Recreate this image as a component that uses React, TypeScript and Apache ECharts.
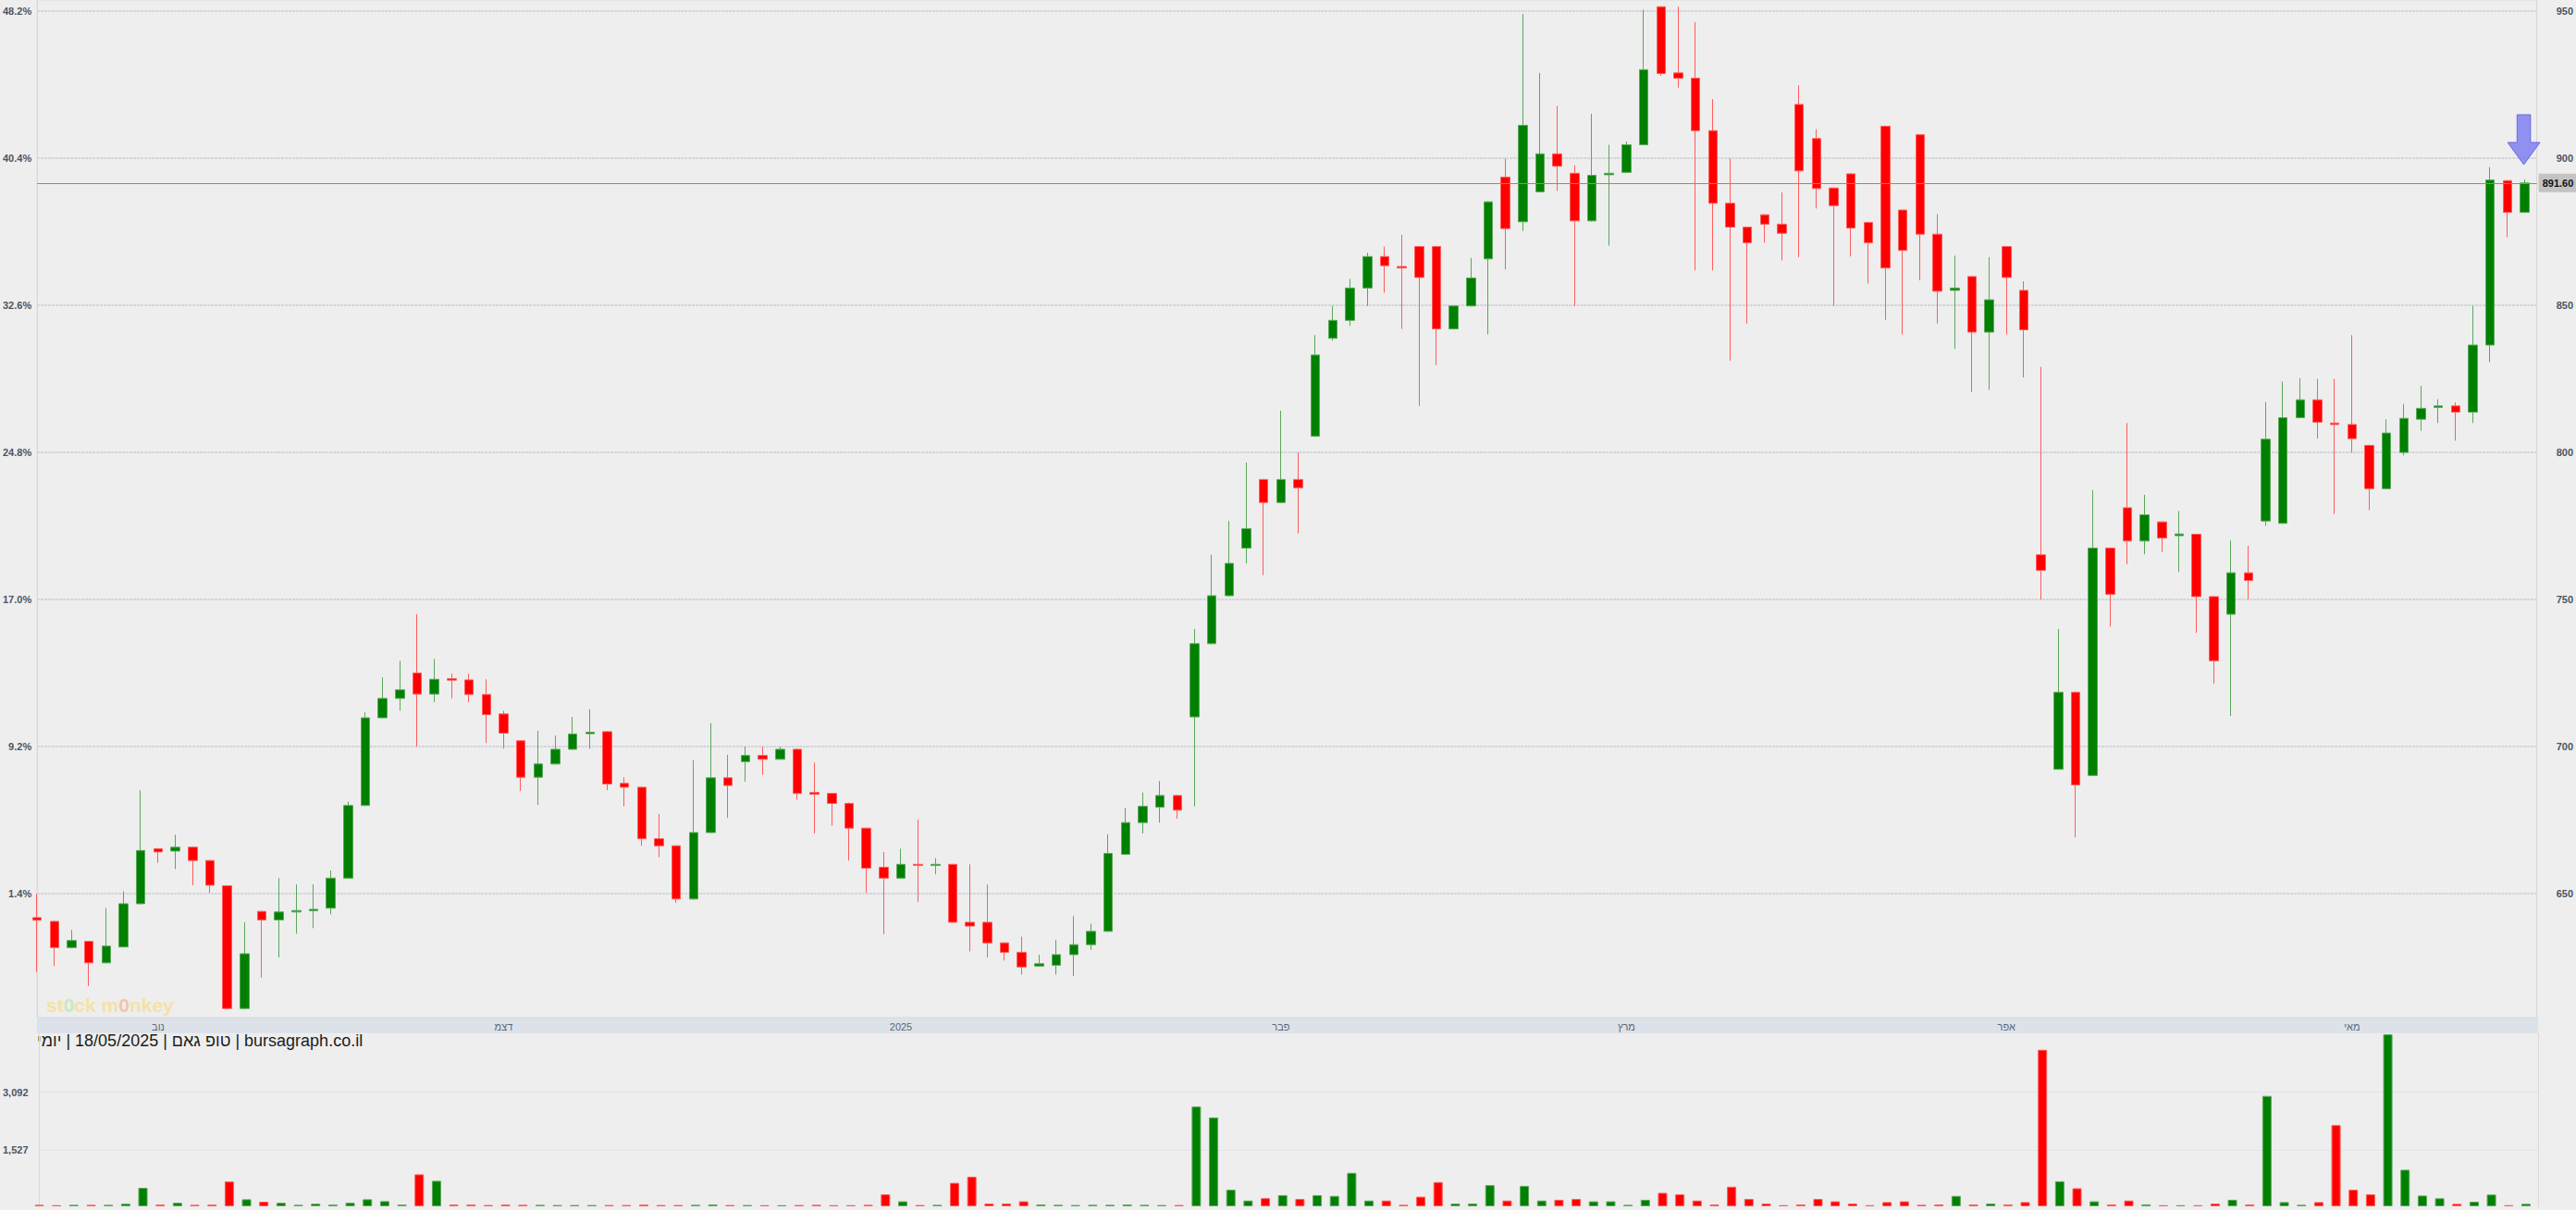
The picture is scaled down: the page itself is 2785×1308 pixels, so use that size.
import React, { useEffect, useRef } from 'react';
import * as echarts from 'echarts';

// ---- data ----
const opens = [
  641.9, 640.6, 631.7, 633.8, 626.5, 631.9, 646.6, 665.3, 664.5, 665.8,
  661.3, 652.7, 611.0, 644.0, 641.1, 643.8, 644.2, 645.1, 655.3, 680.0,
  709.8, 716.4, 725.0, 717.9, 723.1, 722.7, 717.7, 711.1, 702.0, 689.6,
  694.1, 699.1, 704.4, 705.1, 687.5, 686.2, 668.7, 666.3, 648.2, 670.8,
  689.4, 694.9, 697.0, 695.7, 699.1, 684.4, 684.1, 680.7, 672.3, 659.0,
  655.3, 660.0, 659.6, 660.0, 640.3, 640.3, 633.3, 630.1, 625.4, 625.7,
  629.3, 632.7, 637.2, 663.4, 674.2, 679.4, 683.4, 710.1, 735.0, 751.3,
  767.5, 790.8, 783.0, 790.8, 805.5, 838.8, 844.9, 855.9, 866.6, 863.2,
  870.0, 870.0, 842.0, 849.8, 865.8, 893.6, 878.4, 888.6, 901.5, 894.9,
  878.7, 894.4, 895.2, 904.6, 951.5, 929.0, 927.2, 909.4, 884.7, 876.6,
  880.8, 877.6, 918.3, 906.7, 889.9, 894.7, 878.2, 910.9, 882.4, 908.0,
  874.2, 855.1, 859.8, 840.9, 870.0, 855.1, 765.2, 692.3, 718.5, 690.2,
  767.5, 781.2, 769.9, 776.4, 771.7, 772.2, 751.0, 745.0, 759.1, 776.7,
  775.9, 811.8, 817.9, 810.0, 809.5, 802.4, 787.7, 800.0, 811.3, 815.3,
  815.8, 813.7, 836.5, 892.4, 881.6,
];
const closes = [
  641.0, 631.7, 634.1, 626.5, 632.2, 646.6, 664.7, 664.2, 665.8, 661.3,
  652.9, 611.0, 629.6, 641.1, 643.8, 644.3, 644.7, 655.3, 680.0, 709.8,
  716.4, 719.3, 717.9, 722.9, 722.6, 717.7, 710.9, 704.6, 689.6, 694.1,
  699.1, 704.3, 704.9, 687.3, 686.2, 668.7, 666.3, 648.2, 670.8, 689.4,
  686.8, 697.0, 695.7, 699.1, 684.1, 683.8, 680.7, 672.3, 658.7, 655.3,
  660.0, 659.6, 660.0, 640.3, 639.0, 633.3, 630.1, 625.1, 626.2, 629.3,
  632.7, 637.2, 663.7, 674.2, 679.7, 683.4, 678.4, 735.0, 751.3, 762.3,
  774.1, 783.0, 790.8, 788.0, 833.1, 844.9, 855.9, 866.6, 863.5, 862.7,
  859.5, 842.0, 849.8, 859.3, 885.2, 876.1, 911.2, 901.5, 897.3, 878.7,
  894.2, 894.9, 904.6, 930.1, 928.8, 927.2, 909.4, 884.7, 876.6, 871.3,
  877.6, 874.5, 895.7, 889.7, 883.9, 876.3, 871.3, 862.7, 868.7, 874.2,
  854.8, 855.9, 840.9, 851.9, 859.5, 841.7, 759.9, 718.5, 687.0, 767.5,
  751.8, 769.9, 778.8, 770.9, 772.3, 751.0, 729.2, 759.1, 756.5, 804.5,
  811.8, 817.9, 810.3, 809.5, 804.7, 787.7, 806.6, 811.6, 815.0, 815.8,
  813.7, 836.5, 892.6, 881.6, 891.6,
];
const lows = [
  623.3, 625.4, 631.4, 618.6, 626.3, 631.7, 646.4, 660.5, 658.4, 652.9,
  650.3, 610.8, 610.8, 621.5, 628.3, 636.4, 638.3, 643.0, 655.1, 679.8,
  709.6, 712.2, 700.0, 715.1, 716.4, 715.1, 701.2, 699.3, 684.9, 680.2,
  693.9, 698.9, 699.3, 685.2, 679.7, 666.3, 662.4, 646.9, 648.0, 670.6,
  675.8, 688.1, 690.4, 695.5, 682.0, 670.5, 673.1, 661.3, 650.3, 636.2,
  655.1, 647.2, 656.6, 640.1, 630.4, 628.3, 627.3, 622.5, 625.2, 622.5,
  622.0, 630.9, 637.0, 663.2, 670.5, 674.2, 675.5, 679.7, 734.8, 751.1,
  762.3, 758.3, 782.8, 772.5, 805.3, 838.0, 843.0, 849.8, 854.3, 842.0,
  815.8, 829.7, 841.8, 849.6, 840.1, 862.2, 875.3, 888.4, 888.9, 849.8,
  878.5, 870.3, 895.0, 904.4, 928.0, 924.0, 861.9, 861.9, 831.2, 843.8,
  871.3, 865.3, 866.4, 882.9, 849.8, 866.6, 857.4, 845.1, 840.1, 858.5,
  843.8, 835.2, 820.5, 821.3, 840.1, 825.5, 750.0, 692.1, 669.2, 690.0,
  740.8, 762.0, 765.4, 766.2, 759.4, 738.7, 721.4, 710.4, 750.0, 775.1,
  775.7, 811.6, 804.7, 779.1, 800.0, 780.4, 787.5, 799.0, 807.4, 810.0,
  804.0, 810.0, 830.7, 873.2, 881.4,
];
const highs = [
  650.0, 640.8, 637.7, 634.0, 645.1, 650.8, 685.2, 665.6, 670.0, 666.0,
  661.5, 652.9, 640.3, 644.2, 655.3, 653.2, 653.2, 657.9, 681.3, 711.7,
  723.5, 729.2, 745.0, 729.8, 724.8, 724.8, 722.9, 712.2, 702.2, 705.4,
  703.8, 710.1, 712.7, 705.3, 689.6, 686.4, 677.1, 666.5, 695.4, 708.0,
  697.2, 700.0, 700.0, 700.0, 699.3, 694.6, 684.3, 681.0, 672.5, 664.2,
  665.3, 675.2, 662.1, 660.2, 660.0, 653.2, 633.5, 635.4, 629.3, 634.3,
  642.4, 639.8, 670.2, 679.2, 684.4, 688.3, 683.6, 740.0, 765.2, 776.7,
  796.6, 791.0, 814.2, 800.0, 839.9, 849.8, 859.0, 867.9, 870.0, 874.0,
  870.2, 870.2, 850.0, 866.1, 885.4, 899.9, 949.0, 929.0, 917.8, 897.6,
  915.1, 904.6, 905.7, 950.5, 951.7, 951.5, 946.3, 920.1, 899.9, 876.8,
  881.0, 888.4, 924.8, 909.9, 890.1, 894.9, 878.4, 911.1, 882.6, 908.2,
  881.0, 866.9, 860.0, 866.4, 870.2, 858.2, 829.1, 740.0, 718.7, 787.2,
  767.7, 810.0, 785.6, 776.6, 780.1, 772.4, 751.2, 770.1, 768.3, 817.1,
  824.1, 825.2, 825.0, 825.0, 839.9, 802.6, 811.3, 816.5, 822.6, 818.1,
  817.0, 849.8, 897.0, 892.6, 892.8,
];
const volumes = [
  40, 30, 40, 40, 40, 70, 500, 45, 95, 40,
  45, 670, 190, 125, 95, 40, 70, 45, 95, 190,
  140, 45, 865, 690, 45, 45, 35, 45, 40, 40,
  35, 35, 35, 35, 35, 45, 35, 35, 40, 50,
  35, 35, 30, 30, 35, 40, 30, 30, 40, 323,
  135, 35, 40, 635, 800, 73, 73, 135, 50, 40,
  35, 40, 40, 50, 40, 35, 35, 2700, 2405, 448,
  156, 220, 302, 198, 302, 281, 906, 156, 156, 40,
  260, 656, 73, 73, 573, 156, 552, 156, 177, 198,
  135, 135, 40, 177, 364, 323, 156, 50, 531, 198,
  73, 30, 50, 198, 135, 73, 30, 114, 135, 40,
  50, 281, 50, 73, 50, 114, 4237, 677, 489, 135,
  50, 156, 52, 30, 30, 30, 73, 177, 50, 2988,
  114, 40, 114, 2197, 448, 323, 4653, 990, 290, 217,
  67, 125, 317, 30, 67,
];
const monthTickIdx = [7, 27, 50, 72, 92, 114, 134];
const monthNames = ['נוב', 'דצמ', '2025', 'פבר', 'מרץ', 'אפר', 'מאי'];
const priceTicks = [650, 700, 750, 800, 850, 900, 950];
const volumeTicks = [1527, 3092];
const titleParts = ['יומי', '18/05/2025', 'טופ גאם', 'bursagraph.co.il'];

// ---- styling / layout ----
const UP = '#008000';
const DOWN = '#ff0000';
const UP_EDGE = '#5aa85a';
const DOWN_EDGE = '#ff5c5c';
const FONT = '"Liberation Sans", Arial, sans-serif';
const LABEL_COLOR = '#4b5565';
const PRICE_MIN = 607.9;
const PRICE_MAX = 953.8;
const VOL_MAX = 4682;
const X_MAX = 144.7;
const LRM = '\u200E';

const BASE = closes[0];
const lastIdx = closes.length - 1;
const lastClose = closes[lastIdx];

function buildOption(): any {
  const candleData = opens.map((o, i) => [i, o, closes[i], lows[i], highs[i]]);
  const volData = volumes.map((v, i) => {
    const up = closes[i] >= opens[i];
    return {
      value: [i, v],
      itemStyle: { color: up ? UP : DOWN, borderColor: up ? UP_EDGE : DOWN_EDGE, borderWidth: 1 },
    };
  });
  const axisLine = { show: true, lineStyle: { color: '#d9d9d9', width: 1 } };
  return {
    animation: false,
    backgroundColor: '#eeeeee',
    textStyle: { fontFamily: FONT },
    grid: [
      { left: 40, right: 41, top: 0, height: 1100, show: true, borderColor: '#d9d9d9', borderWidth: 1, backgroundColor: 'transparent' },
      { left: 40, right: 41, top: 1117, bottom: 4 },
    ],
    xAxis: [
      {
        type: 'value', gridIndex: 0, min: 0, max: X_MAX,
        splitLine: { show: false }, axisLine: { show: false }, axisTick: { show: false },
        axisLabel: {
          customValues: monthTickIdx,
          formatter: (v: number) => {
            const k = monthTickIdx.indexOf(v);
            return k >= 0 ? monthNames[k] : '';
          },
          margin: 4, fontSize: 11, color: '#5b6675', fontFamily: FONT,
        },
      },
      { type: 'value', gridIndex: 1, min: 0, max: X_MAX, show: false },
    ],
    yAxis: [
      {
        type: 'value', gridIndex: 0, position: 'left', min: PRICE_MIN, max: PRICE_MAX,
        axisLine,
        axisTick: { show: false, customValues: priceTicks },
        axisLabel: {
          customValues: priceTicks,
          formatter: (v: number) => ((v / BASE - 1) * 100).toFixed(1) + '%',
          margin: 6, fontSize: 11, fontWeight: 'bold', color: LABEL_COLOR, fontFamily: FONT,
        },
        splitLine: { show: true, lineStyle: { color: '#c9cdd5', width: 1.5, type: [3, 1] } },
      },
      {
        type: 'value', gridIndex: 0, position: 'right', min: PRICE_MIN, max: PRICE_MAX,
        axisLine,
        axisTick: { show: false, customValues: priceTicks },
        axisLabel: {
          customValues: priceTicks,
          margin: 21, fontSize: 11, fontWeight: 'bold', color: LABEL_COLOR, fontFamily: FONT,
        },
        splitLine: { show: false },
      },
      {
        type: 'value', gridIndex: 1, position: 'left', min: 0, max: VOL_MAX,
        axisLine,
        axisTick: { show: false, customValues: volumeTicks },
        axisLabel: {
          customValues: volumeTicks,
          formatter: (v: number) => v.toLocaleString('en-US'),
          margin: 12, fontSize: 11, fontWeight: 'bold', color: LABEL_COLOR, fontFamily: FONT,
        },
        splitLine: { show: true, lineStyle: { color: '#d3d6dc', width: 1, type: 'dotted' } },
      },
      {
        type: 'value', gridIndex: 1, position: 'right', min: 0, max: VOL_MAX,
        axisLine, axisTick: { show: false }, axisLabel: { show: false }, splitLine: { show: false },
      },
    ],
    series: [
      {
        type: 'candlestick',
        xAxisIndex: 0, yAxisIndex: 1,
        data: candleData,
        barWidth: 10,
        clip: false,
        itemStyle: {
          color: UP, color0: DOWN,
          borderColor: UP_EDGE, borderColor0: DOWN_EDGE, borderWidth: 1,
        },
        markLine: {
          silent: true,
          symbol: ['none', 'none'],
          lineStyle: { color: '#dd7711', width: 1, type: 'solid' },
          label: {
            show: true, position: 'end',
            formatter: () => lastClose.toFixed(2),
            color: '#111', fontWeight: 'bold', fontSize: 11, fontFamily: FONT,
            backgroundColor: '#c3c3c3', padding: [5, 4, 4, 4], distance: 2,
          },
          data: [{ yAxis: lastClose }],
        },
      },
      {
        type: 'bar',
        xAxisIndex: 1, yAxisIndex: 2,
        data: volData,
        barWidth: 10,
      },
    ],
  };
}

function buildGraphics(tipX: number, tipY: number): any[] {
  const title = titleParts.map((p) => LRM + p + LRM).join(' | ');
  return [
    {
      type: 'rect', id: 'band', z: -1, silent: true,
      shape: { x: 40, y: 1100, width: 2704, height: 17 },
      style: { fill: '#dde2ea' },
    },
    {
      type: 'text', id: 'title', left: 40, top: 1116, silent: true,
      style: { text: title, font: '18px ' + FONT, fill: '#1c1c1c' },
    },
    {
      type: 'text', id: 'wm', left: 50, top: 1076, silent: true,
      style: {
        text: '{a|st}{g|0}{a|ck m}{p|0}{a|nkey}',
        rich: {
          a: { fill: '#f4e2a6', font: 'bold 21px ' + FONT },
          g: { fill: '#c9e8c0', font: 'bold 21px ' + FONT },
          p: { fill: '#f0c4ae', font: 'bold 21px ' + FONT },
        },
      },
    },
    {
      type: 'polygon', id: 'arrow', silent: true, z: 10,
      shape: {
        points: [
          [tipX, tipY], [tipX + 17.5, tipY - 24], [tipX + 7.3, tipY - 24], [tipX + 7.3, tipY - 54],
          [tipX - 7.3, tipY - 54], [tipX - 7.3, tipY - 24], [tipX - 17.5, tipY - 24],
        ],
      },
      style: { fill: 'rgba(112,112,242,0.75)', stroke: 'rgba(96,96,228,0.9)', lineWidth: 1 },
    },
  ];
}

export default function App() {
  const ref = useRef<HTMLDivElement>(null);
  useEffect(() => {
    document.body.style.margin = '0';
    if (!ref.current) return;
    const chart = echarts.init(ref.current, null, { renderer: 'svg' });
    chart.setOption(buildOption());
    const p = chart.convertToPixel({ seriesIndex: 0 }, [lastIdx, highs[lastIdx]]) as number[];
    chart.setOption({ graphic: buildGraphics(p[0] - 1, p[1] - 16) });
    return () => chart.dispose();
  }, []);
  return <div ref={ref} style={{ width: 2785, height: 1308 }} />;
}
